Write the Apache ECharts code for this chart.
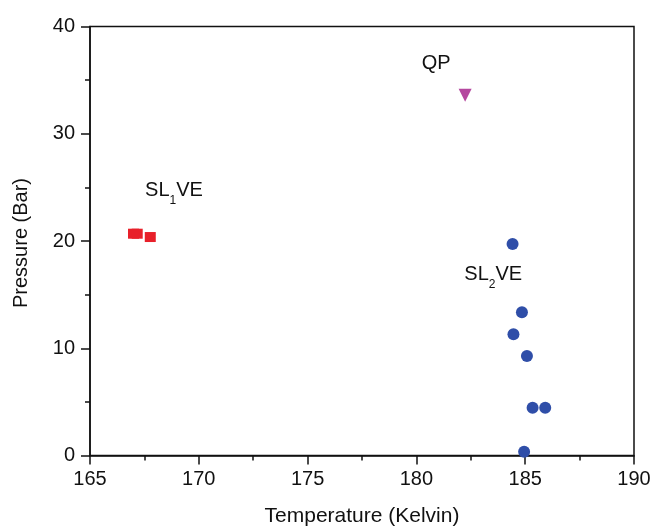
<!DOCTYPE html>
<html>
<head>
<meta charset="utf-8">
<script src="https://cdn.jsdelivr.net/npm/echarts@6/dist/echarts.min.js"></script>
<style>html,body{margin:0;padding:0;background:#fff}#c{width:654px;height:527px}</style>
</head>
<body>
<div id="c"></div>
<script>
// SL1VE (red squares): [temperature K, pressure bar]
const sl1veTemp = [167.0, 167.17, 167.77];
const sl1vePress = [20.68, 20.68, 20.37];
// QP (magenta triangle)
const qpTemp = [182.24];
const qpPress = [33.6];
// SL2VE (blue circles)
const sl2veTemp = [184.42, 184.85, 184.46, 185.08, 185.34, 185.92, 184.95];
const sl2vePress = [19.72, 13.35, 11.30, 9.28, 4.46, 4.46, 0.35];
// axis ticks
const xTicks = [165, 170, 175, 180, 185, 190];
const yTicks = [0, 10, 20, 30, 40];
// annotation anchors (data coordinates)
const annoNames = ['SL1VE', 'QP', 'SL2VE'];
const annoTemp = [168.86, 180.91, 183.53];
const annoPress = [24.76, 36.64, 16.97];

const zip = (a, b) => a.map((v, i) => [v, b[i]]);
const font = 'Liberation Sans, Arial, sans-serif';
const ink = '#111';

const annoText = {
  SL1VE: '{n|SL}{s|1}{n|VE}',
  QP: '{n|QP}',
  SL2VE: '{n|SL}{s|2}{n|VE}'
};

const chart = echarts.init(document.getElementById('c'), null, {renderer: 'canvas'});
chart.setOption({
  animation: false,
  backgroundColor: '#fff',
  grid: {left: 90, right: 20, top: 26.5, bottom: 71.5, show: true, borderColor: ink, borderWidth: 1.5, outerBoundsMode: 'none', containLabel: false},
  xAxis: {
    type: 'value', min: xTicks[0], max: xTicks[xTicks.length - 1], interval: 5,
    splitLine: {show: false},
    axisLine: {lineStyle: {color: ink, width: 1.5}},
    axisTick: {length: 9, lineStyle: {color: ink, width: 1.5}},
    minorTick: {show: true, splitNumber: 2, length: 5, lineStyle: {color: ink, width: 1.5}},
    axisLabel: {color: ink, fontSize: 20, fontFamily: font, margin: 14},
    name: 'Temperature (Kelvin)', nameLocation: 'middle', nameGap: 50,
    nameTextStyle: {color: ink, fontSize: 21, fontFamily: font}
  },
  yAxis: {
    type: 'value', min: yTicks[0], max: yTicks[yTicks.length - 1], interval: 10,
    splitLine: {show: false},
    axisLine: {show: true, lineStyle: {color: ink, width: 1.5}},
    axisTick: {show: true, length: 9, lineStyle: {color: ink, width: 1.5}},
    minorTick: {show: true, splitNumber: 2, length: 5, lineStyle: {color: ink, width: 1.5}},
    axisLabel: {color: ink, fontSize: 20, fontFamily: font, margin: 15}
  },
  graphic: [{
    type: 'text', x: 21, y: 243, rotation: Math.PI / 2,
    style: {text: 'Pressure (Bar)', fill: ink, font: '20px ' + font, textAlign: 'center', textVerticalAlign: 'middle'}
  }],
  series: [
    {type: 'scatter', name: 'SL1VE', data: zip(sl1veTemp, sl1vePress), symbol: 'rect', symbolSize: [11, 10], itemStyle: {color: '#e8202a', opacity: 1}},
    {type: 'scatter', name: 'QP', data: zip(qpTemp, qpPress), symbol: 'triangle', symbolRotate: 180, symbolSize: 13, itemStyle: {color: '#b5479f', opacity: 1}},
    {type: 'scatter', name: 'SL2VE', data: zip(sl2veTemp, sl2vePress), symbol: 'circle', symbolSize: 12, itemStyle: {color: '#2f4ea8', opacity: 1}},
    {
      type: 'scatter', name: 'labels', symbol: 'circle', symbolSize: 1, silent: true,
      itemStyle: {color: 'rgba(0,0,0,0)', opacity: 1},
      data: annoNames.map((n, i) => ({name: n, value: [annoTemp[i], annoPress[i]]})),
      label: {
        show: true, position: 'inside', color: ink, opacity: 1,
        formatter: p => annoText[p.name],
        rich: {
          n: {fontSize: 20, fontFamily: font, color: ink, verticalAlign: 'bottom', lineHeight: 22},
          s: {fontSize: 12, fontFamily: font, color: ink, verticalAlign: 'bottom', lineHeight: 14, padding: [0, 0, -6, 0]}
        }
      }
    }
  ]
});
</script>
</body>
</html>
